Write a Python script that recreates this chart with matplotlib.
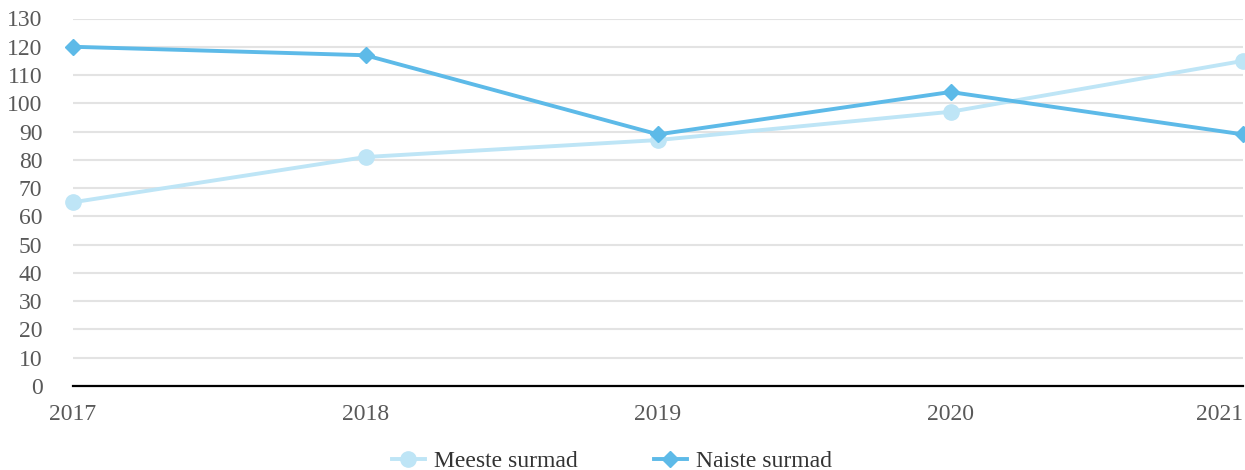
import matplotlib
matplotlib.use("Agg")
import matplotlib.pyplot as plt
from matplotlib.lines import Line2D

years = [2017, 2018, 2019, 2020, 2021]
meeste = [65, 81, 87, 97, 115]
naiste = [120, 117, 89, 104, 89]
series_names = ["Meeste surmad", "Naiste surmad"]
yticks = list(range(0, 131, 10))

plt.rcParams['font.family'] = ['Liberation Serif', 'DejaVu Serif']

W, H = 1245, 470
fig = plt.figure(figsize=(W/100, H/100), dpi=100)
ax = fig.add_axes([73/W, 1-386/H, (1243-73)/W, (386-18.5)/H])

c_m = "#BEE5F6"
c_n = "#5DBAE8"
fs = 17

ax.plot(years, meeste, color=c_m, lw=2.8, marker='o', ms=11, clip_on=False, zorder=3)
ax.plot(years, naiste, color=c_n, lw=2.8, marker='D', ms=8.5, clip_on=False, zorder=4)

ax.set_xlim(2017, 2021)
ax.set_ylim(0, 130)
ax.set_yticks(yticks)
ax.set_xticks(years)
ax.set_xticklabels([str(y) for y in years])
ax.grid(axis='y', color='#E3E3E3', lw=1.5)
ax.set_axisbelow(True)
for s in ['top', 'right', 'left']:
    ax.spines[s].set_visible(False)
ax.spines['bottom'].set_color('black')
ax.spines['bottom'].set_linewidth(1.6)
ax.spines['bottom'].set_zorder(5)
ax.tick_params(axis='both', length=0, labelsize=fs, labelcolor='#595959')
ax.tick_params(axis='y', pad=22)
ax.tick_params(axis='x', pad=13)
ax.get_xticklabels()[-1].set_horizontalalignment('right')

handles = [Line2D([], [], color=c_m, lw=2.8, marker='o', ms=11),
           Line2D([], [], color=c_n, lw=2.8, marker='D', ms=8.5)]
fig.legend(handles, series_names, loc='center', bbox_to_anchor=(612/W, 1-461/H),
           ncol=2, frameon=False, fontsize=fs, handlelength=1.4,
           columnspacing=3.2, handletextpad=0.4, labelcolor='#333333',
           borderpad=0.1)

fig.savefig("out.png", dpi=100)
